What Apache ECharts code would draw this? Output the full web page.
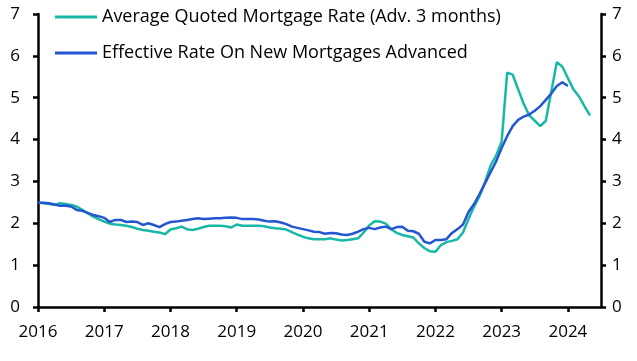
<!DOCTYPE html>
<html><head><meta charset="utf-8">
<script src="https://cdn.jsdelivr.net/npm/echarts@6/dist/echarts.min.js"></script>
<style>html,body{margin:0;padding:0;background:#fff}#c{width:637px;height:361px}</style>
</head><body><div id="c"></div>
<script>
var months = [
'2016-01','2016-02','2016-03','2016-04','2016-05','2016-06','2016-07','2016-08','2016-09','2016-10','2016-11','2016-12',
'2017-01','2017-02','2017-03','2017-04','2017-05','2017-06','2017-07','2017-08','2017-09','2017-10','2017-11','2017-12',
'2018-01','2018-02','2018-03','2018-04','2018-05','2018-06','2018-07','2018-08','2018-09','2018-10','2018-11','2018-12',
'2019-01','2019-02','2019-03','2019-04','2019-05','2019-06','2019-07','2019-08','2019-09','2019-10','2019-11','2019-12',
'2020-01','2020-02','2020-03','2020-04','2020-05','2020-06','2020-07','2020-08','2020-09','2020-10','2020-11','2020-12',
'2021-01','2021-02','2021-03','2021-04','2021-05','2021-06','2021-07','2021-08','2021-09','2021-10','2021-11','2021-12',
'2022-01','2022-02','2022-03','2022-04','2022-05','2022-06','2022-07','2022-08','2022-09','2022-10','2022-11','2022-12',
'2023-01','2023-02','2023-03','2023-04','2023-05','2023-06','2023-07','2023-08','2023-09','2023-10','2023-11','2023-12',
'2024-01','2024-02','2024-03','2024-04','2024-05','2024-06','2024-07'];

var quotedRate = [
2.49,2.48,2.46,2.44,2.48,2.46,2.44,2.40,2.32,2.24,2.16,2.10,
2.04,1.99,1.97,1.96,1.94,1.91,1.87,1.84,1.82,1.80,1.78,1.74,
1.85,1.88,1.92,1.86,1.84,1.87,1.91,1.94,1.94,1.94,1.93,1.90,
1.97,1.94,1.94,1.94,1.94,1.93,1.90,1.88,1.87,1.85,1.79,1.73,
1.68,1.64,1.62,1.62,1.62,1.64,1.61,1.59,1.60,1.62,1.64,1.78,
1.95,2.05,2.04,1.99,1.86,1.77,1.72,1.69,1.66,1.52,1.41,1.33,
1.32,1.48,1.55,1.58,1.62,1.78,2.10,2.40,2.65,2.98,3.38,3.62,
3.95,5.60,5.55,5.20,4.85,4.58,4.45,4.32,4.45,5.15,5.85,5.74,
5.47,5.20,5.03,4.80,4.58];

var effectiveRate = [
2.49,2.49,2.48,2.45,2.42,2.42,2.40,2.32,2.30,2.25,2.20,2.17,
2.13,2.03,2.08,2.08,2.03,2.04,2.03,1.96,2.00,1.96,1.91,1.98,
2.03,2.04,2.06,2.08,2.10,2.12,2.10,2.11,2.12,2.12,2.13,2.14,
2.13,2.10,2.10,2.10,2.09,2.06,2.04,2.05,2.02,1.98,1.92,1.89,
1.86,1.83,1.80,1.79,1.75,1.77,1.76,1.73,1.72,1.75,1.80,1.86,
1.89,1.86,1.90,1.92,1.86,1.91,1.92,1.82,1.81,1.75,1.56,1.52,
1.60,1.60,1.62,1.77,1.86,1.97,2.27,2.46,2.70,2.96,3.22,3.48,
3.80,4.08,4.32,4.47,4.55,4.60,4.69,4.80,4.95,5.10,5.28,5.37,
5.28];

var yTicks = [0,1,2,3,4,5,6,7];
var seriesNames = ['Average Quoted Mortgage Rate (Adv. 3 months)','Effective Rate On New Mortgages Advanced'];
var colors = ['#17b8a6','#2356d0'];

var font = '"Open Sans", sans-serif';
var isJan = function(i, v){ return /-01$/.test(v); };
var yAxisBase = function(pos, margin){
  return {
    type:'value', position:pos, min:yTicks[0], max:yTicks[yTicks.length-1], interval:1,
    axisLine:{show:true, lineStyle:{color:'#000', width:2.5}},
    axisTick:{show:true, length:5, lineStyle:{color:'#000', width:2.5}},
    axisLabel:{color:'#000', fontSize:17, fontFamily:font, margin:margin},
    splitLine:{show:false}
  };
};
var chart = echarts.init(document.getElementById('c'), null, {renderer:'canvas'});
chart.setOption({
  animation:false,
  backgroundColor:'#fff',
  grid:{left:38, right:36, top:14, bottom:54, containLabel:false},
  legend:{
    orient:'vertical', left:55, top:8, padding:0, itemWidth:42, itemHeight:3, itemGap:18,
    icon:'rect',
    textStyle:{fontSize:18, fontFamily:font, color:'#000', padding:[0,0,0,0]},
    data:seriesNames
  },
  xAxis:{
    type:'category', data:months, boundaryGap:false,
    axisLine:{lineStyle:{color:'#000', width:2.5}},
    axisTick:{show:true, interval:isJan, length:5, lineStyle:{color:'#000', width:2.5}},
    axisLabel:{interval:isJan, formatter:function(v){return v.slice(0,4);}, color:'#000', fontSize:17, fontFamily:font, margin:17},
    splitLine:{show:false}
  },
  yAxis:[yAxisBase('left', 18), yAxisBase('right', 11)],
  series:[
    {name:seriesNames[0], type:'line', data:quotedRate, showSymbol:false, color:colors[0],
     lineStyle:{width:2.5, color:colors[0]}, z:2},
    {name:seriesNames[1], type:'line', data:effectiveRate, showSymbol:false, color:colors[1],
     lineStyle:{width:2.5, color:colors[1]}, z:3}
  ]
});
</script></body></html>
